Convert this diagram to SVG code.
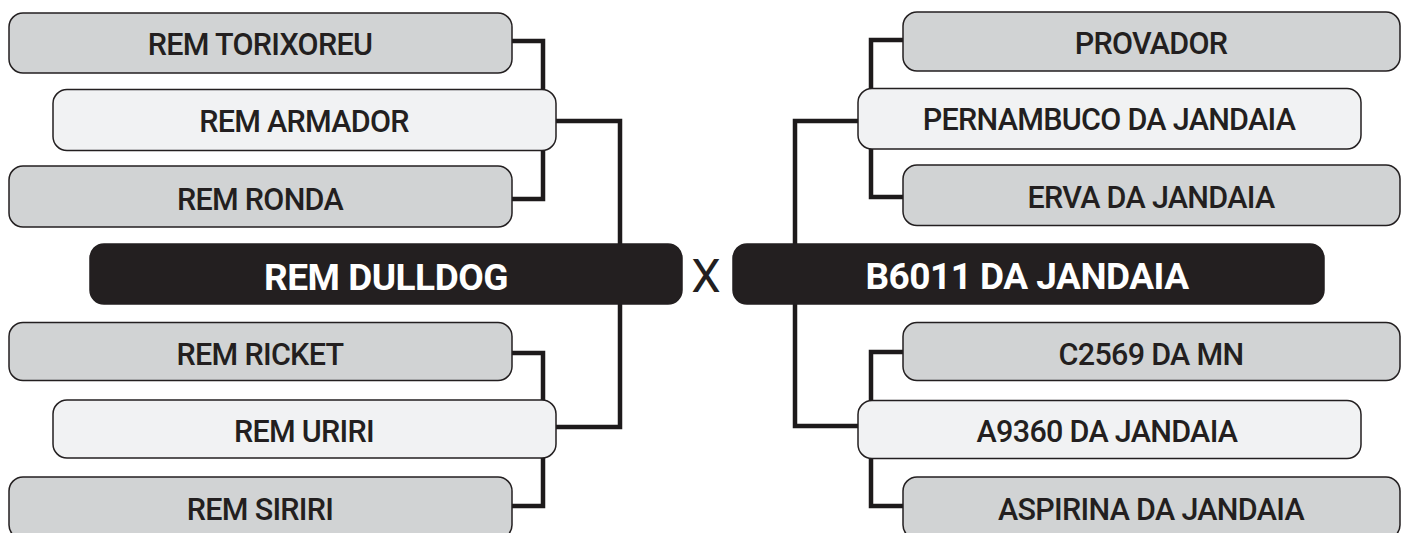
<svg xmlns="http://www.w3.org/2000/svg" width="1402" height="533" viewBox="0 0 1402 533">
<style>
.box{stroke:#231f20;stroke-width:1.5}
.g{fill:#d1d3d4}
.l{fill:#f1f2f3}
.d{fill:#231f20}
.t{font-family:Roboto,"Liberation Sans",sans-serif;font-size:30.5px;font-weight:500;letter-spacing:-0.7px;fill:#231f20;text-anchor:middle}
.tb{font-family:Roboto,"Liberation Sans",sans-serif;font-size:37px;font-weight:bold;letter-spacing:-0.5px;fill:#ffffff;text-anchor:middle}
.c{fill:none;stroke:#1d1a1b;stroke-width:4.5;stroke-linejoin:miter;stroke-linecap:butt}
</style>
<rect width="1402" height="533" fill="#ffffff"/>
<g id="connectors">
<path class="c" d="M512,41 H543 V90"/>
<path class="c" d="M512,199 H543 V150"/>
<path class="c" d="M556,121 H620 V245"/>
<path class="c" d="M512,353 H543 V401"/>
<path class="c" d="M512,506 H543 V457"/>
<path class="c" d="M556,427 H620 V303"/>
<path class="c" d="M903,40 H871 V89"/>
<path class="c" d="M903,197 H871 V148"/>
<path class="c" d="M858,121 H795 V245"/>
<path class="c" d="M903,352 H871 V401"/>
<path class="c" d="M903,506 H871 V458"/>
<path class="c" d="M858,426 H795 V303"/>
</g>
<g id="n-torixoreu"><rect class="box g" x="9" y="13" width="503" height="60" rx="14"/><text class="t" x="260" y="55">REM TORIXOREU</text></g>
<g id="n-armador"><rect class="box l" x="53" y="89.5" width="503" height="61" rx="14"/><text class="t" x="304" y="131.5">REM ARMADOR</text></g>
<g id="n-ronda"><rect class="box g" x="9" y="166" width="503" height="61" rx="14"/><text class="t" x="260" y="209.5">REM RONDA</text></g>
<g id="n-dulldog"><rect class="box d" x="90" y="244" width="592" height="60" rx="14"/><text class="tb" x="386" y="289.5">REM DULLDOG</text></g>
<g id="n-ricket"><rect class="box g" x="9" y="322.5" width="503" height="58" rx="14"/><text class="t" x="260" y="364.5">REM RICKET</text></g>
<g id="n-uriri"><rect class="box l" x="53" y="400" width="503" height="58" rx="14"/><text class="t" x="304" y="441.5">REM URIRI</text></g>
<g id="n-siriri"><rect class="box g" x="9" y="477" width="503" height="62" rx="14"/><text class="t" x="260" y="519.5">REM SIRIRI</text></g>
<g id="n-x"><text x="706" y="292" style="font-family:Roboto,'Liberation Sans',sans-serif;font-size:47px;fill:#231f20;text-anchor:middle">X</text></g>
<g id="n-provador"><rect class="box g" x="903" y="12" width="497" height="59" rx="14"/><text class="t" x="1151" y="54">PROVADOR</text></g>
<g id="n-pernambuco"><rect class="box l" x="858" y="88.5" width="503" height="60.5" rx="14"/><text class="t" x="1109" y="130">PERNAMBUCO DA JANDAIA</text></g>
<g id="n-erva"><rect class="box g" x="903" y="165" width="497" height="60.5" rx="14"/><text class="t" x="1151" y="208">ERVA DA JANDAIA</text></g>
<g id="n-b6011"><rect class="box d" x="733" y="244" width="591" height="60" rx="14"/><text class="tb" x="1027" y="288.5">B6011 DA JANDAIA</text></g>
<g id="n-c2569"><rect class="box g" x="903" y="322.5" width="497" height="58" rx="14"/><text class="t" x="1151" y="365">C2569 DA MN</text></g>
<g id="n-a9360"><rect class="box l" x="858" y="400.5" width="503" height="58" rx="14"/><text class="t" x="1107" y="441.5">A9360 DA JANDAIA</text></g>
<g id="n-aspirina"><rect class="box g" x="903" y="477" width="497" height="62" rx="14"/><text class="t" x="1151" y="519.5">ASPIRINA DA JANDAIA</text></g>
</svg>
